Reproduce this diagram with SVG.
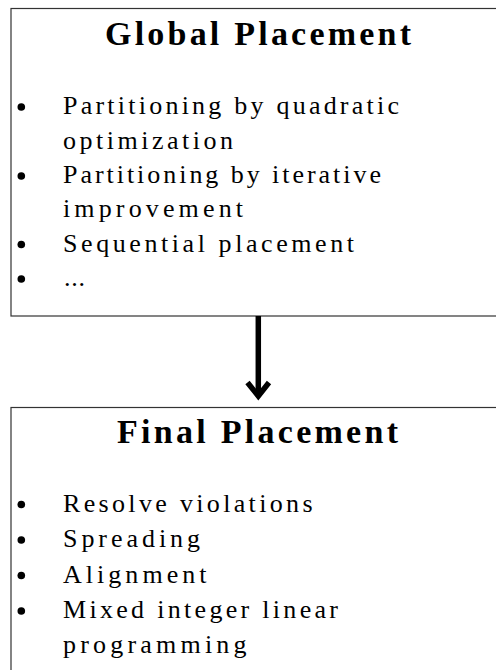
<svg xmlns="http://www.w3.org/2000/svg" width="496" height="670" viewBox="0 0 496 670">
<style>
.box{fill:#fff;stroke:#333;stroke-width:1.2}
.title{font-family:"Liberation Serif","Times New Roman",serif;font-weight:bold;font-size:34px;fill:#000}
.item{font-family:"Liberation Serif","Times New Roman",serif;font-size:26px;fill:#000}
.bullet{fill:#000}
.conn{fill:none;stroke:#000;stroke-width:5.5}
</style>
<rect width="496" height="670" fill="#fff"/>
<g id="global-placement">
<rect class="box" x="11" y="8.5" width="500" height="307.5"/>
<text class="title" x="105" y="44.5" textLength="306" lengthAdjust="spacing">Global Placement</text>
<circle class="bullet" cx="21.3" cy="107" r="3.8"/>
<text class="item" x="63" y="114" textLength="336" lengthAdjust="spacing">Partitioning by quadratic</text>
<text class="item" x="63" y="148.5" textLength="170" lengthAdjust="spacing">optimization</text>
<circle class="bullet" cx="21.3" cy="176" r="3.8"/>
<text class="item" x="63" y="183" textLength="318" lengthAdjust="spacing">Partitioning by iterative</text>
<text class="item" x="63" y="217" textLength="180" lengthAdjust="spacing">improvement</text>
<circle class="bullet" cx="21.3" cy="244.5" r="3.8"/>
<text class="item" x="63" y="251.5" textLength="291" lengthAdjust="spacing">Sequential placement</text>
<circle class="bullet" cx="21.3" cy="279" r="3.8"/>
<text class="item" x="64" y="286" textLength="21" lengthAdjust="spacing">...</text>
</g>
<g id="final-placement">
<rect class="box" x="11" y="407.5" width="500" height="300"/>
<text class="title" x="117" y="442.7" textLength="281" lengthAdjust="spacing">Final Placement</text>
<circle class="bullet" cx="21.3" cy="504.5" r="3.8"/>
<text class="item" x="63" y="512" textLength="249.5" lengthAdjust="spacing">Resolve violations</text>
<circle class="bullet" cx="21.3" cy="540" r="3.8"/>
<text class="item" x="63" y="547" textLength="137" lengthAdjust="spacing">Spreading</text>
<circle class="bullet" cx="21.3" cy="575.5" r="3.8"/>
<text class="item" x="63" y="583" textLength="143.5" lengthAdjust="spacing">Alignment</text>
<circle class="bullet" cx="21.3" cy="611" r="3.8"/>
<text class="item" x="63" y="618.3" textLength="275" lengthAdjust="spacing">Mixed integer linear</text>
<text class="item" x="63" y="653.3" textLength="183.5" lengthAdjust="spacing">programming</text>
</g>
<g id="connectors">
<line class="conn" x1="258.3" y1="316" x2="258.3" y2="396"/>
<polyline class="conn" points="247.5,382.5 258.3,396 269,382.5" stroke-linejoin="miter"/>
</g>
</svg>
